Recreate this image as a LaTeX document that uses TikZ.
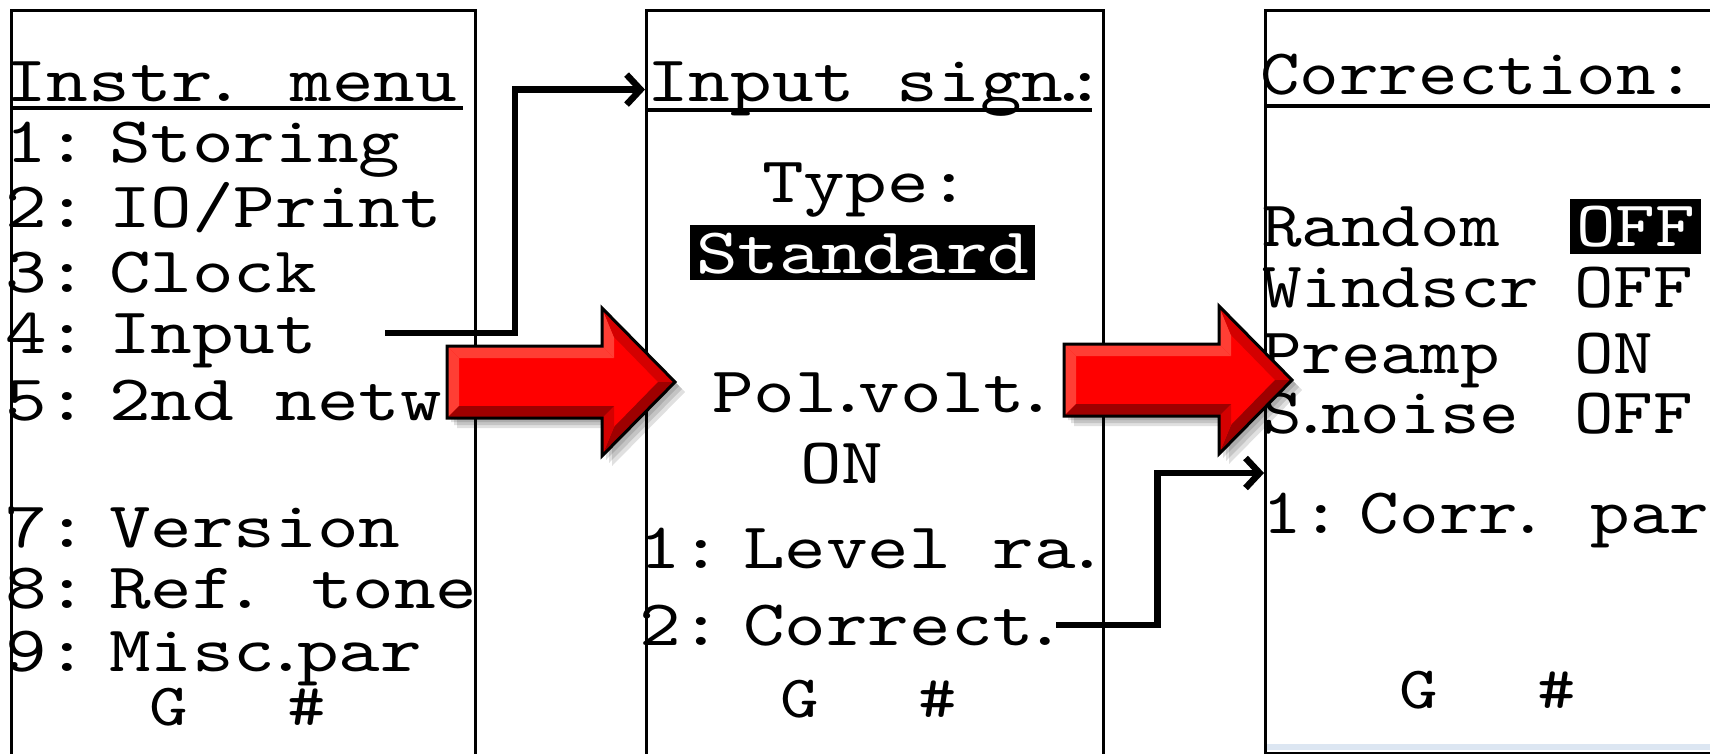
\documentclass[tikz,border=0pt]{standalone}
\usepackage{fontspec}
\newfontfamily\lcdfont[Extension=.otf,FakeStretch=1.22]{lmmono10-regular}
\newfontfamily\lcdnarrow[Extension=.otf,FakeStretch=1.16]{lmmono10-regular}
\usepackage{tikz}
\usetikzlibrary{arrows.meta,calc}
\definecolor{arrowred}{RGB}{255,0,0}
\definecolor{bevlight}{RGB}{255,62,52}
\definecolor{bevmid}{RGB}{212,0,0}
\definecolor{bevdark}{RGB}{158,0,0}
\definecolor{bandblue}{RGB}{220,230,242}
\tikzset{
    panel/.style = {draw, rectangle, line width=2.6pt, anchor=north west, inner sep=0pt},
    lcd/.style = {anchor=base west, inner sep=0pt,
        font=\lcdfont\fontsize{65}{64}\selectfont},
    lcdr/.style = {lcd, font=\lcdnarrow\fontsize{65}{64}\selectfont},
    keys/.style = {lcd, font=\lcdfont\fontsize{60}{60}\selectfont},
    inv/.style = {fill=black, text=white, inner xsep=6pt, inner ysep=0pt,
        text height=48pt, text depth=7pt},
    uline/.style = {line width=4.5pt},
    menulink/.style = {draw, line width=6.5pt, -{Straight Barb[length=14pt,width=30pt]}}
}
\newcommand{\sqdot}{\kern-10pt.\kern-10pt}
\newcommand{\lcdno}[1]{#1:\kern-21pt\ }
\newcommand{\bevelarrow}[1]{%
    \begin{scope}[shift={#1}]
        \foreach \s in {10,7,4}
            \fill[black, opacity=.12, shift={(\s,\s)}] (0,0) -- (155,0) -- (155,-38) -- (228,36) -- (155,110) -- (155,72) -- (0,72) -- cycle;
        \fill[arrowred] (0,0) -- (155,0) -- (155,-38) -- (228,36) -- (155,110) -- (155,72) -- (0,72) -- cycle;
        \fill[bevlight] (0,0) -- (155,0) -- (167,12) -- (12,12) -- cycle;
        \fill[bevlight] (0,0) -- (12,12) -- (12,60) -- (0,72) -- cycle;
        \fill[bevlight] (155,0) -- (155,-38) -- (167,-9) -- (167,12) -- cycle;
        \fill[bevmid] (155,-38) -- (228,36) -- (211,36) -- (167,-9) -- cycle;
        \fill[bevdark] (228,36) -- (155,110) -- (167,81) -- (211,36) -- cycle;
        \fill[bevmid] (155,110) -- (155,72) -- (167,60) -- (167,81) -- cycle;
        \fill[bevdark] (155,72) -- (0,72) -- (12,60) -- (167,60) -- cycle;
        \draw[line width=3pt] (0,0) -- (155,0) -- (155,-38) -- (228,36) -- (155,110) -- (155,72) -- (0,72) -- cycle;
    \end{scope}}

\begin{document}
\begin{tikzpicture}[x=1pt,y=-1pt]
    \useasboundingbox (0,0) rectangle (1710,754);
    \fill[white] (0,0) rectangle (1710,754);
    \clip (0,0) rectangle (1710,754);

    \node[panel, minimum width=464pt, minimum height=800pt] (p1) at (10,9) {};
    \node[panel, minimum width=457pt, minimum height=800pt] (p2) at (645,9) {};
    \fill[bandblue] (1266,744) rectangle (1710,750);
    \node[panel, line width=3pt, minimum width=500pt, minimum height=743pt] (p3) at (1264,9) {};

    \node[lcd] (ttl1) at (5,102) {Instr\sqdot{} menu};
    \node[lcd] (sto) at (5,163) {\lcdno{1}Storing};
    \node[lcd] (prn) at (5,228) {\lcdno{2}IO/Print};
    \node[lcd] (clk) at (5,292) {\lcdno{3}Clock};
    \node[lcd] (inp) at (5,353) {\lcdno{4}Input};
    \node[lcd] (net) at (5,420) {\lcdno{5}2nd netw};
    \node[lcd] (ver) at (5,547) {\lcdno{7}Version};
    \node[lcd] (tone) at (5,608) {\lcdno{8}Ref\sqdot{} tone};
    \node[lcd] (misc) at (5,671) {\lcdno{9}Misc\sqdot{}par};
    \node[keys] (keys1) at (149,725) {G\hspace{100pt}\#};
    \draw[uline] (10,108) -- (463,108);

    \node[lcd] (ttl2) at (647,102) {Input sign\kern-15pt.\kern-26pt:};
    \node[lcd] (typ) at (762,203) {Type:};
    \node[lcd, inv] (std) at (690,273) {Standard\ };
    \node[lcd] (pol) at (712,412) {Pol\sqdot{}volt\sqdot};
    \node[lcd] (pon) at (800,483) {ON};
    \node[lcd] (lev) at (639,568) {\lcdno{1}Level ra\sqdot};
    \node[lcd] (cor) at (639,645) {\lcdno{2}Correct\sqdot};
    \node[keys] (keys2) at (780,717) {G\hspace{100pt}\#};
    \draw[uline] (645,110) -- (1092,110);

    \node[lcdr] (ttl3) at (1260,95) {Correction:};
    \node[lcdr] (rnd) at (1262,247) {Random};
    \node[lcdr, inv] (rndv) at (1570,247) {OFF};
    \node[lcdr] (wnd) at (1262,307) {Windscr};
    \node[lcdr] (wndv) at (1574,307) {OFF};
    \node[lcdr] (pre) at (1262,373) {Preamp};
    \node[lcdr] (prev) at (1574,373) {ON};
    \node[lcdr] (sno) at (1262,433) {S\sqdot{}noise};
    \node[lcdr] (snov) at (1574,433) {OFF};
    \node[lcdr] (par) at (1262,533) {\lcdno{1}Corr\sqdot{} par};
    \node[keys] (keys3) at (1399,708) {G\hspace{100pt}\#};
    \draw[uline] (1264,106) -- (1710,106);

    \coordinate (inpout) at (385,333);
    \coordinate (ttl2in) at (p2.west |- ttl2.west);
    \coordinate (parin) at (p3.west |- 0,473);
    \draw[menulink] (inpout) -- ++(130,0) |- (ttl2in);
    \draw[menulink] (cor.east) -- ++(101,0) |- (parin);

    \bevelarrow{(447,346)}
    \bevelarrow{(1064,344)}
\end{tikzpicture}
\end{document}
